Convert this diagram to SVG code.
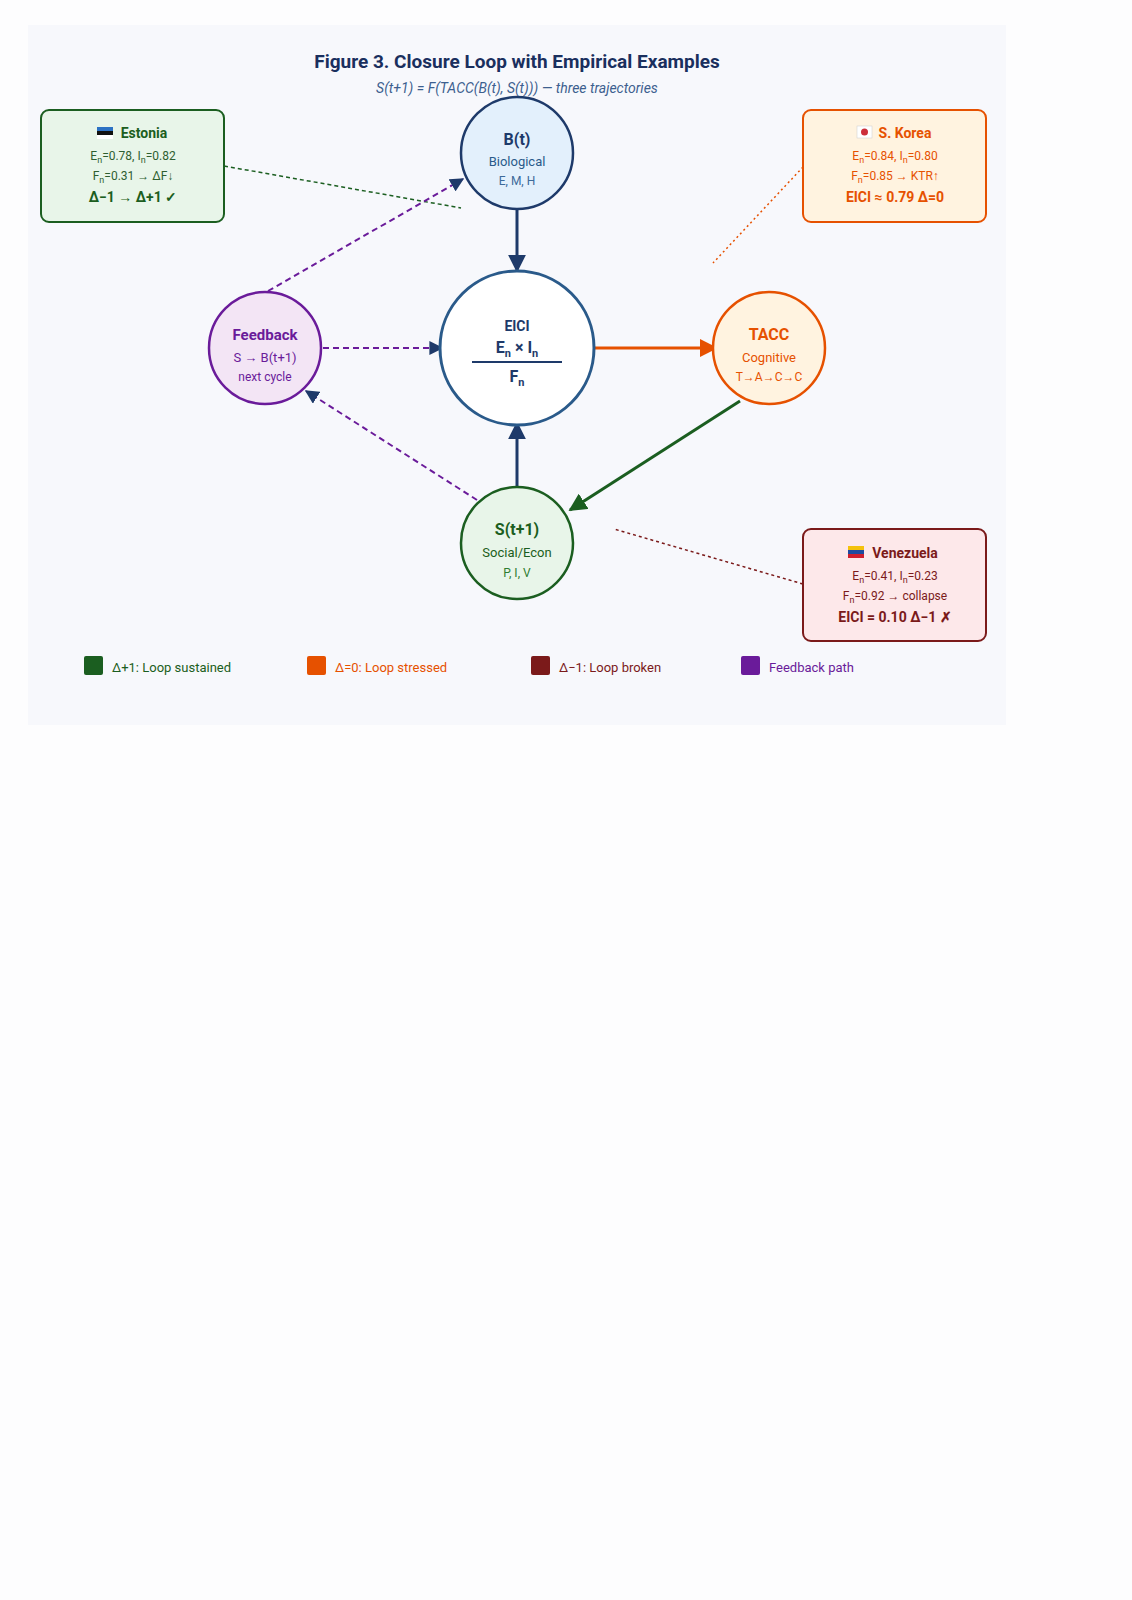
<svg xmlns="http://www.w3.org/2000/svg" width="1132" height="1600" viewBox="0 0 1132 1600">
<defs>
<style>
text{font-family:Roboto,"Liberation Sans",sans-serif;text-anchor:middle}
.b{font-weight:bold}
.s{font-size:12px}
</style>
<marker id="an" viewBox="0 0 10 10" refX="9" refY="5" markerWidth="6" markerHeight="6" orient="auto"><path d="M0,0L10,5L0,10z" fill="#1e3a6a"/></marker>
<marker id="ao" viewBox="0 0 10 10" refX="9" refY="5" markerWidth="6" markerHeight="6" orient="auto"><path d="M0,0L10,5L0,10z" fill="#e65100"/></marker>
<marker id="ag" viewBox="0 0 10 10" refX="9" refY="5" markerWidth="6" markerHeight="6" orient="auto"><path d="M0,0L10,5L0,10z" fill="#1b5e20"/></marker>
<marker id="ap" viewBox="0 0 10 10" refX="9" refY="5" markerWidth="7" markerHeight="7" orient="auto"><path d="M0,0L10,5L0,10z" fill="#1e3a6a"/></marker>
</defs>
<rect width="1132" height="1600" fill="#fdfdfe"/>
<rect x="28" y="25" width="978" height="700" fill="#f7f8fc"/>
<text x="517" y="68" class="b" font-size="19" fill="#1a2f5e">Figure 3. Closure Loop with Empirical Examples</text>
<text x="517" y="93" font-size="14" font-style="italic" fill="#3d5f8f">S(t+1) = F(TACC(B(t), S(t))) — three trajectories</text>
<g id="connectors" fill="none">
<line x1="224" y1="166" x2="461" y2="208" stroke="#1b5e20" stroke-width="1.5" stroke-dasharray="4,3"/>
<line x1="803" y1="167" x2="713" y2="263" stroke="#e65100" stroke-width="1.5" stroke-dasharray="2,3"/>
<line x1="803" y1="584" x2="614" y2="529" stroke="#7b1a1a" stroke-width="1.5" stroke-dasharray="3,3"/>
<line x1="517" y1="209" x2="517" y2="271" stroke="#1e3a6a" stroke-width="3" marker-end="url(#an)"/>
<line x1="517" y1="487" x2="517" y2="423" stroke="#1e3a6a" stroke-width="3" marker-end="url(#an)"/>
<line x1="594" y1="348" x2="716" y2="348" stroke="#e65100" stroke-width="3" marker-end="url(#ao)"/>
<line x1="740" y1="401" x2="570" y2="510" stroke="#1b5e20" stroke-width="3" marker-end="url(#ag)"/>
<line x1="323" y1="348" x2="442" y2="348" stroke="#6a1b9a" stroke-width="2" stroke-dasharray="6,4" marker-end="url(#ap)"/>
<line x1="477" y1="500" x2="306" y2="391" stroke="#6a1b9a" stroke-width="2" stroke-dasharray="6,4" marker-end="url(#ap)"/>
<line x1="268" y1="291" x2="463" y2="179" stroke="#6a1b9a" stroke-width="2" stroke-dasharray="6,4" marker-end="url(#ap)"/>
</g>
<g id="B">
<circle cx="517" cy="153" r="56" fill="#e3f0fc" stroke="#1e3a6a" stroke-width="2.5"/>
<text x="517" y="145" class="b" font-size="16" fill="#1e3a6a">B(t)</text>
<text x="517" y="166" font-size="13" fill="#2a5a8a">Biological</text>
<text x="517" y="185" class="s" fill="#3d6a9a">E, M, H</text>
</g>
<g id="EICI">
<circle cx="517" cy="348" r="77" fill="#ffffff" stroke="#2a5a8a" stroke-width="3"/>
<text x="517" y="331" class="b" font-size="14" fill="#1e3a6a">EICI</text>
<text x="517" y="353" class="b" font-size="16" fill="#1e3a6a">E<tspan font-size="11" dy="4">n</tspan><tspan dy="-4"> × I</tspan><tspan font-size="11" dy="4">n</tspan></text>
<line x1="472" y1="362" x2="562" y2="362" stroke="#1e3a6a" stroke-width="2"/>
<text x="517" y="382" class="b" font-size="16" fill="#1e3a6a">F<tspan font-size="11" dy="4">n</tspan></text>
</g>
<g id="TACC">
<circle cx="769" cy="348" r="56" fill="#fff3e0" stroke="#e65100" stroke-width="2.5"/>
<text x="769" y="340" class="b" font-size="16" fill="#e65100">TACC</text>
<text x="769" y="362" font-size="13" fill="#e65100">Cognitive</text>
<text x="769" y="381" class="s" fill="#e65100">T→A→C→C</text>
</g>
<g id="Feedback">
<circle cx="265" cy="348" r="56" fill="#f3e5f5" stroke="#6a1b9a" stroke-width="2.5"/>
<text x="265" y="340" class="b" font-size="15" fill="#6a1b9a">Feedback</text>
<text x="265" y="362" font-size="13" fill="#6a1b9a">S → B(t+1)</text>
<text x="265" y="381" class="s" fill="#6a1b9a">next cycle</text>
</g>
<g id="S">
<circle cx="517" cy="543" r="56" fill="#e8f5e9" stroke="#1b5e20" stroke-width="2.5"/>
<text x="517" y="535" class="b" font-size="16" fill="#1b5e20">S(t+1)</text>
<text x="517" y="557" font-size="13" fill="#1b5e20">Social/Econ</text>
<text x="517" y="577" class="s" fill="#2e7d32">P, I, V</text>
</g>
<g id="Estonia">
<rect x="41" y="110" width="183" height="112" rx="8" fill="#e8f5e9" stroke="#1b5e20" stroke-width="2"/>
<rect x="97" y="127" width="16" height="4" fill="#2d72c4"/><rect x="97" y="131" width="16" height="4" fill="#111"/><rect x="97" y="135" width="16" height="4" fill="#fff"/>
<text x="144" y="138" class="b" font-size="14" fill="#1b5e20">Estonia</text>
<text x="133" y="160" class="s" fill="#2e5e30">E<tspan font-size="9" dy="3">n</tspan><tspan dy="-3">=0.78, I</tspan><tspan font-size="9" dy="3">n</tspan><tspan dy="-3">=0.82</tspan></text>
<text x="133" y="180" class="s" fill="#2e5e30">F<tspan font-size="9" dy="3">n</tspan><tspan dy="-3">=0.31 → ΔF↓</tspan></text>
<text x="133" y="202" class="b" font-size="14" fill="#1b5e20">Δ−1 → Δ+1 ✓</text>
</g>
<g id="Korea">
<rect x="803" y="110" width="183" height="112" rx="8" fill="#fff3e0" stroke="#e65100" stroke-width="2"/>
<rect x="857" y="126" width="15" height="12" fill="#fff" stroke="#ccc" stroke-width="0.5"/><circle cx="864.5" cy="132" r="3.5" fill="#cd2e3a"/>
<text x="905" y="138" class="b" font-size="14" fill="#e65100">S. Korea</text>
<text x="895" y="160" class="s" fill="#e65100">E<tspan font-size="9" dy="3">n</tspan><tspan dy="-3">=0.84, I</tspan><tspan font-size="9" dy="3">n</tspan><tspan dy="-3">=0.80</tspan></text>
<text x="895" y="180" class="s" fill="#e65100">F<tspan font-size="9" dy="3">n</tspan><tspan dy="-3">=0.85 → KTR↑</tspan></text>
<text x="895" y="202" class="b" font-size="14" fill="#e65100">EICI ≈ 0.79 Δ=0</text>
</g>
<g id="Venezuela">
<rect x="803" y="529" width="183" height="112" rx="8" fill="#fde8ea" stroke="#7b1a1a" stroke-width="2"/>
<rect x="848" y="546" width="16" height="4" fill="#f4c20d"/><rect x="848" y="550" width="16" height="4" fill="#1e4ba0"/><rect x="848" y="554" width="16" height="4" fill="#cf1f2e"/>
<text x="905" y="558" class="b" font-size="14" fill="#7b1a1a">Venezuela</text>
<text x="895" y="580" class="s" fill="#7b1a1a">E<tspan font-size="9" dy="3">n</tspan><tspan dy="-3">=0.41, I</tspan><tspan font-size="9" dy="3">n</tspan><tspan dy="-3">=0.23</tspan></text>
<text x="895" y="600" class="s" fill="#7b1a1a">F<tspan font-size="9" dy="3">n</tspan><tspan dy="-3">=0.92 → collapse</tspan></text>
<text x="895" y="622" class="b" font-size="14" fill="#7b1a1a">EICI = 0.10 Δ−1 ✗</text>
</g>
<g id="legend" font-size="13">
<rect x="84" y="656" width="19" height="19" rx="2" fill="#1b5e20"/>
<text x="112" y="672" style="text-anchor:start" fill="#1b5e20">Δ+1: Loop sustained</text>
<rect x="307" y="656" width="19" height="19" rx="2" fill="#e65100"/>
<text x="335" y="672" style="text-anchor:start" fill="#e65100">Δ=0: Loop stressed</text>
<rect x="531" y="656" width="19" height="19" rx="2" fill="#7b1a1a"/>
<text x="559" y="672" style="text-anchor:start" fill="#7b1a1a">Δ−1: Loop broken</text>
<rect x="741" y="656" width="19" height="19" rx="2" fill="#6a1b9a"/>
<text x="769" y="672" style="text-anchor:start" fill="#6a1b9a">Feedback path</text>
</g>
</svg>
